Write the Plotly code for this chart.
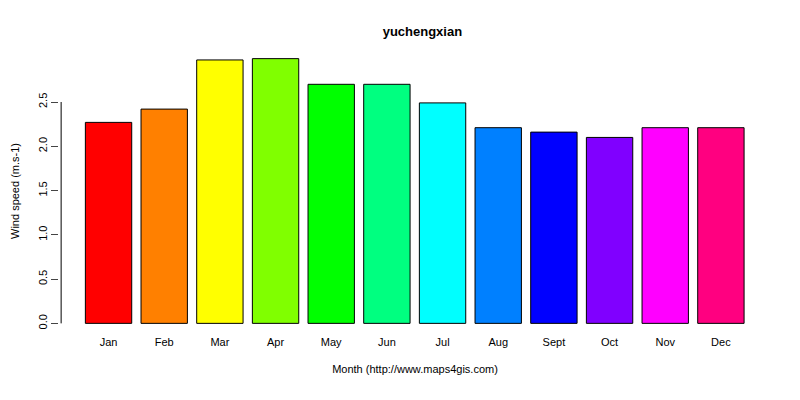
import plotly.graph_objects as go

months = ["Jan","Feb","Mar","Apr","May","Jun","Jul","Aug","Sept","Oct","Nov","Dec"]
wind = [2.27, 2.42, 2.975, 2.99, 2.70, 2.70, 2.49, 2.21, 2.16, 2.10, 2.21, 2.21]
colors = ["#FF0000","#FF8000","#FFFF00","#80FF00","#00FF00","#00FF80",
          "#00FFFF","#0080FF","#0000FF","#8000FF","#FF00FF","#FF0080"]
yticks = [0, 0.5, 1.0, 1.5, 2.0, 2.5]
ylabels = ["0.0","0.5","1.0","1.5","2.0","2.5"]

fig = go.Figure(go.Bar(x=months, y=wind, marker=dict(color=colors, line=dict(color="black", width=1))))
font = dict(family="Liberation Sans, Arial", size=12, color="black")
tfont = dict(family="Liberation Sans, Arial", size=11, color="black")
fig.update_layout(
    width=800, height=400, paper_bgcolor="white", plot_bgcolor="white",
    margin=dict(l=51, r=37, t=40, b=74, autoexpand=False),
    bargap=0.167, font=font, showlegend=False,
    title=dict(text="<b>yuchengxian</b>", x=0.518, xanchor="center", y=0.9425, yanchor="middle", font=dict(size=13)),
    xaxis=dict(range=[-0.89, 11.9], showline=False, ticks="", showgrid=False, tickfont=tfont,
               title=dict(text="Month (http://www.maps4gis.com)", standoff=18, font=tfont)),
    yaxis=dict(range=[-0.12, 3.11], showgrid=False, zeroline=False, showline=False,
               tickvals=yticks, ticktext=ylabels, ticks="outside", ticklen=7, tickangle=-90,
               tickfont=tfont, title=dict(text="Wind speed (m.s-1)", standoff=14, font=tfont)),
)
fig.add_shape(type="line", xref="paper", yref="y", x0=0.003, x1=0.003, y0=yticks[0], y1=yticks[-1],
              line=dict(color="black", width=1))
fig.write_html("out.html")
